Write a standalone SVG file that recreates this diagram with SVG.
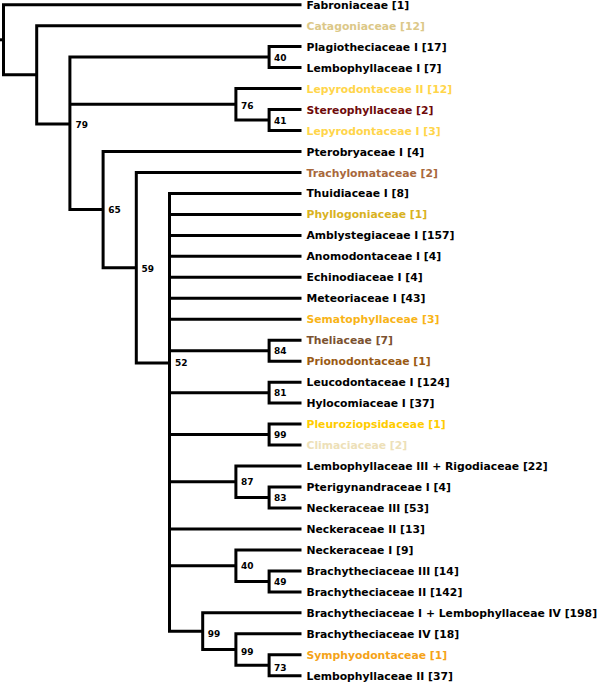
<svg xmlns="http://www.w3.org/2000/svg" width="600" height="683" viewBox="0 0 600 683">
<style>
.c{fill:none;stroke:#000;stroke-width:3;stroke-linejoin:miter}
.t{font-family:"DejaVu Sans","Verdana",sans-serif;font-weight:bold;font-size:10.8px;fill:#000}
.s{font-family:"DejaVu Sans","Verdana",sans-serif;font-weight:bold;font-size:9px;fill:#000}
.tan{fill:#DCC888}.yel{fill:#FFD54A}.red{fill:#6E0A0A}.sie{fill:#A8683C}.gold{fill:#D9B21E}
.org{fill:#F8B417}.brn{fill:#7B5230}.prn{fill:#9A5A14}.ylw{fill:#FFCC00}.pale{fill:#EDE0B8}.sym{fill:#F5A318}
</style>
<rect width="600" height="683" fill="#fff"/>
<g id="connectors">
<path class="c" d="M0 39.8H3.5"/>
<path class="c" d="M301.5 4.7H3.5V74.85H36.7"/>
<path class="c" d="M301.5 25.7H36.7V124H69.9"/>
<path class="c" d="M269.1 57.1H69.9V209.6H103.1M69.9 104.3H235.9"/>
<path class="c" d="M301.5 46.6H269.1V67.6H301.5"/>
<path class="c" d="M301.5 88.6H235.9V120.05H269.1"/>
<path class="c" d="M301.5 109.6H269.1V130.5H301.5"/>
<path class="c" d="M301.5 151.5H103.1V267.75H136.3"/>
<path class="c" d="M301.5 172.5H136.3V363H169.5"/>
<path class="c" d="M301.5 193.4H169.5V631.15H202.7M169.5 214.4H301.5M169.5 235.4H301.5M169.5 256.3H301.5M169.5 277.3H301.5M169.5 298.3H301.5M169.5 319.3H301.5M169.5 350.7H269.1M169.5 392.65H269.1M169.5 434.6H269.1M169.5 481.75H235.9M169.5 529H301.5M169.5 565.65H235.9"/>
<path class="c" d="M301.5 340.2H269.1V361.2H301.5"/>
<path class="c" d="M301.5 382.2H269.1V403.1H301.5"/>
<path class="c" d="M301.5 424.1H269.1V445.1H301.5"/>
<path class="c" d="M301.5 466H235.9V497.5H269.1"/>
<path class="c" d="M301.5 487H269.1V508H301.5"/>
<path class="c" d="M301.5 549.9H235.9V581.4H269.1"/>
<path class="c" d="M301.5 570.9H269.1V591.9H301.5"/>
<path class="c" d="M301.5 612.8H202.7V649.5H235.9"/>
<path class="c" d="M301.5 633.8H235.9V665.25H269.1"/>
<path class="c" d="M301.5 654.8H269.1V675.7H301.5"/>
</g>
<g id="internal-nodes">
<g id="node-79"><text class="s" x="75.5" y="127.5">79</text></g>
<g id="node-76"><text class="s" x="240.9" y="108.5">76</text></g>
<g id="node-40a"><text class="s" x="274" y="61">40</text></g>
<g id="node-41"><text class="s" x="274" y="124">41</text></g>
<g id="node-65"><text class="s" x="108.3" y="213.3">65</text></g>
<g id="node-59"><text class="s" x="141.6" y="271.5">59</text></g>
<g id="node-52"><text class="s" x="175" y="366">52</text></g>
<g id="node-84"><text class="s" x="274" y="354.3">84</text></g>
<g id="node-81"><text class="s" x="274" y="396">81</text></g>
<g id="node-99a"><text class="s" x="274" y="438">99</text></g>
<g id="node-87"><text class="s" x="240.9" y="484.8">87</text></g>
<g id="node-83"><text class="s" x="274" y="500.5">83</text></g>
<g id="node-40b"><text class="s" x="240.9" y="569.3">40</text></g>
<g id="node-49"><text class="s" x="274" y="585">49</text></g>
<g id="node-99b"><text class="s" x="207.8" y="636.7">99</text></g>
<g id="node-99c"><text class="s" x="240.9" y="654.7">99</text></g>
<g id="node-73"><text class="s" x="274" y="670.7">73</text></g>
</g>
<g id="leaves">
<g id="leaf-01"><text class="t" x="306.5" y="8.7">Fabroniaceae [1]</text></g>
<g id="leaf-02"><text class="t tan" x="306.5" y="29.7">Catagoniaceae [12]</text></g>
<g id="leaf-03"><text class="t" x="306.5" y="50.6">Plagiotheciaceae I [17]</text></g>
<g id="leaf-04"><text class="t" x="306.5" y="71.6">Lembophyllaceae I [7]</text></g>
<g id="leaf-05"><text class="t yel" x="306.5" y="92.6">Lepyrodontaceae II [12]</text></g>
<g id="leaf-06"><text class="t red" x="306.5" y="113.6">Stereophyllaceae [2]</text></g>
<g id="leaf-07"><text class="t yel" x="306.5" y="134.5">Lepyrodontaceae I [3]</text></g>
<g id="leaf-08"><text class="t" x="306.5" y="155.5">Pterobryaceae I [4]</text></g>
<g id="leaf-09"><text class="t sie" x="306.5" y="176.5">Trachylomataceae [2]</text></g>
<g id="leaf-10"><text class="t" x="306.5" y="197.4">Thuidiaceae I [8]</text></g>
<g id="leaf-11"><text class="t gold" x="306.5" y="218.4">Phyllogoniaceae [1]</text></g>
<g id="leaf-12"><text class="t" x="306.5" y="239.4">Amblystegiaceae I [157]</text></g>
<g id="leaf-13"><text class="t" x="306.5" y="260.3">Anomodontaceae I [4]</text></g>
<g id="leaf-14"><text class="t" x="306.5" y="281.3">Echinodiaceae I [4]</text></g>
<g id="leaf-15"><text class="t" x="306.5" y="302.3">Meteoriaceae I [43]</text></g>
<g id="leaf-16"><text class="t org" x="306.5" y="323.3">Sematophyllaceae [3]</text></g>
<g id="leaf-17"><text class="t brn" x="306.5" y="344.2">Theliaceae [7]</text></g>
<g id="leaf-18"><text class="t prn" x="306.5" y="365.2">Prionodontaceae [1]</text></g>
<g id="leaf-19"><text class="t" x="306.5" y="386.2">Leucodontaceae I [124]</text></g>
<g id="leaf-20"><text class="t" x="306.5" y="407.1">Hylocomiaceae I [37]</text></g>
<g id="leaf-21"><text class="t ylw" x="306.5" y="428.1">Pleuroziopsidaceae [1]</text></g>
<g id="leaf-22"><text class="t pale" x="306.5" y="449.1">Climaciaceae [2]</text></g>
<g id="leaf-23"><text class="t" x="306.5" y="470">Lembophyllaceae III + Rigodiaceae [22]</text></g>
<g id="leaf-24"><text class="t" x="306.5" y="491">Pterigynandraceae I [4]</text></g>
<g id="leaf-25"><text class="t" x="306.5" y="512">Neckeraceae III [53]</text></g>
<g id="leaf-26"><text class="t" x="306.5" y="533">Neckeraceae II [13]</text></g>
<g id="leaf-27"><text class="t" x="306.5" y="553.9">Neckeraceae I [9]</text></g>
<g id="leaf-28"><text class="t" x="306.5" y="574.9">Brachytheciaceae III [14]</text></g>
<g id="leaf-29"><text class="t" x="306.5" y="595.9">Brachytheciaceae II [142]</text></g>
<g id="leaf-30"><text class="t" x="306.5" y="616.8">Brachytheciaceae I + Lembophyllaceae IV [198]</text></g>
<g id="leaf-31"><text class="t" x="306.5" y="637.8">Brachytheciaceae IV [18]</text></g>
<g id="leaf-32"><text class="t sym" x="306.5" y="658.8">Symphyodontaceae [1]</text></g>
<g id="leaf-33"><text class="t" x="306.5" y="679.7">Lembophyllaceae II [37]</text></g>
</g>
</svg>
